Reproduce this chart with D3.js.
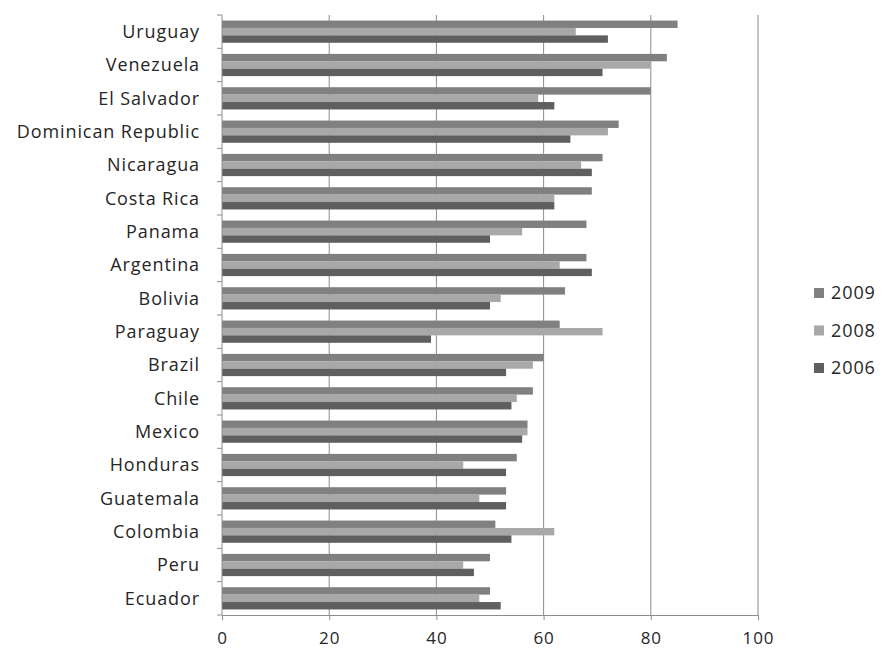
<!DOCTYPE html>
<html>
<head>
<meta charset="utf-8">
<script src="https://cdn.jsdelivr.net/npm/d3@7"></script>
<style>
  body { margin: 0; background: #fff; }
  text { font-family: "Open Sans", "Liberation Sans", sans-serif; fill: #262626; letter-spacing: 0.9px; }
</style>
</head>
<body>
<div id="drawing_region"></div>
<script>
// categories top to bottom
const countries = ["Uruguay", "Venezuela", "El Salvador", "Dominican Republic", "Nicaragua",
    "Costa Rica", "Panama", "Argentina", "Bolivia", "Paraguay", "Brazil", "Chile", "Mexico",
    "Honduras", "Guatemala", "Colombia", "Peru", "Ecuador"];
const years = ["2009", "2008", "2006"];
const v2009 = [85, 83, 80, 74, 71, 69, 68, 68, 64, 63, 60, 58, 57, 55, 53, 51, 50, 50];
const v2008 = [66, 80, 59, 72, 67, 62, 56, 63, 52, 71, 58, 55, 57, 45, 48, 62, 45, 48];
const v2006 = [72, 71, 62, 65, 69, 62, 50, 69, 50, 39, 53, 54, 56, 53, 53, 54, 47, 52];
const xTicks = [0, 20, 40, 60, 80, 100];

const colors = { "2009": "#808080", "2008": "#a8a8a8", "2006": "#5f5f5f" };

const config = {
    width: 881,
    height: 650,
    margin: { top: 15, right: 123, bottom: 35, left: 222 }
};

const data = countries.map((c, i) => ({
    country: c,
    values: { "2009": v2009[i], "2008": v2008[i], "2006": v2006[i] }
}));

const svg = d3.select('#drawing_region')
    .append('svg')
    .attr('width', config.width)
    .attr('height', config.height);

const innerW = config.width - config.margin.left - config.margin.right;
const innerH = config.height - config.margin.top - config.margin.bottom;

const g = svg.append('g')
    .attr('transform', `translate(${config.margin.left},${config.margin.top})`);

const x = d3.scaleLinear().domain([0, 100]).range([0, innerW]);
const y = d3.scaleBand().domain(countries).range([0, innerH]).paddingInner(1 / 3).paddingOuter(1 / 6);
const ySub = d3.scaleBand().domain(years).range([0, y.bandwidth()]);

// gridlines
g.selectAll('.grid')
    .data(xTicks.slice(1))
    .enter()
    .append('line')
    .attr('x1', d => x(d)).attr('x2', d => x(d))
    .attr('y1', 0).attr('y2', innerH)
    .attr('stroke', '#8c8c8c')
    .attr('stroke-width', 1);

// bars
const groups = g.selectAll('.grp')
    .data(data)
    .enter()
    .append('g')
    .attr('transform', d => `translate(0,${y(d.country)})`);

groups.selectAll('rect')
    .data(d => years.map(yr => ({ year: yr, value: d.values[yr] })))
    .enter()
    .append('rect')
    .attr('x', 0)
    .attr('y', d => ySub(d.year))
    .attr('width', d => x(d.value))
    .attr('height', ySub.bandwidth())
    .attr('fill', d => colors[d.year]);

// x axis
const xAxis = g.append('g')
    .attr('transform', `translate(0,${innerH})`)
    .call(d3.axisBottom(x).tickValues(xTicks).tickSize(5).tickSizeOuter(0));
xAxis.select('.domain').attr('stroke', '#8c8c8c');
xAxis.selectAll('line').attr('stroke', '#8c8c8c');
xAxis.selectAll('text')
    .attr('y', 23)
    .attr('dy', '0.35em')
    .style('font-size', '17px')
    .attr('fill', '#262626');

// y axis: ticks at category boundaries
const step = innerH / countries.length;
g.append('line')
    .attr('x1', 0).attr('x2', 0).attr('y1', 0).attr('y2', innerH)
    .attr('stroke', '#8c8c8c');
g.selectAll('.ytick')
    .data(d3.range(countries.length + 1))
    .enter()
    .append('line')
    .attr('x1', -5).attr('x2', 0)
    .attr('y1', d => d * step).attr('y2', d => d * step)
    .attr('stroke', '#8c8c8c');

g.selectAll('.ylabel')
    .data(countries)
    .enter()
    .append('text')
    .attr('x', -22)
    .attr('y', d => y(d) + y.bandwidth() / 2)
    .attr('dy', '0.35em')
    .attr('text-anchor', 'end')
    .style('font-size', '18px')
    .text(d => d);

// legend
const legend = svg.append('g').attr('transform', 'translate(814,293)');
const li = legend.selectAll('g')
    .data(years)
    .enter()
    .append('g')
    .attr('transform', (d, i) => `translate(0,${i * 37.5})`);
li.append('rect')
    .attr('x', 0).attr('y', -5)
    .attr('width', 10).attr('height', 10)
    .attr('fill', d => colors[d]);
li.append('text')
    .attr('x', 17)
    .attr('dy', '0.36em')
    .style('font-size', '18px')
    .text(d => d);
</script>
</body>
</html>
